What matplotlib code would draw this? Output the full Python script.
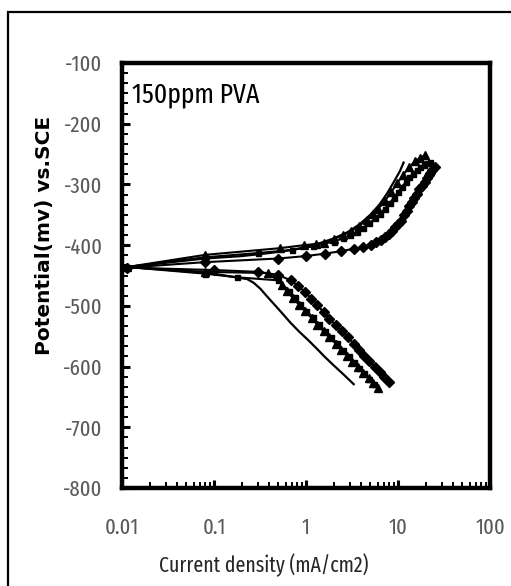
import numpy as np
import matplotlib
matplotlib.use("Agg")
import matplotlib.pyplot as plt
from matplotlib.ticker import FixedLocator, AutoMinorLocator, LogLocator, NullFormatter
from matplotlib.patches import Rectangle

plt.rcParams['axes.unicode_minus'] = False
narrow = ['Fira Sans Extra Condensed', 'Carlito', 'DejaVu Sans']

# ---- data: current density (mA/cm2) and potential (mV vs SCE)
# each series runs cathodic end -> Ecorr -> anodic end
i_line = [3.3, 2.6, 2.0, 1.6, 1.3, 1.05, 0.85, 0.68, 0.58, 0.5, 0.43, 0.37, 0.32, 0.27, 0.23, 0.09,
          0.0114,
          0.08, 0.2, 0.4, 0.7, 1.0, 1.4, 2.0, 2.8, 3.8, 5.0, 6.3, 7.6, 9.0, 10.5, 11.5]
e_line = [-629, -614, -598, -584, -570, -556, -543, -528, -516, -505, -494, -483, -472, -462, -456, -446,
          -436,
          -422, -418, -413, -408, -403, -397, -389, -379, -366, -350, -333, -315, -296, -278, -264]

i_tri = [6.1, 5.4, 4.8, 4.2, 3.7, 3.2, 2.8, 2.4, 2.1, 1.8, 1.55, 1.33, 1.15, 0.98, 0.84, 0.72, 0.62, 0.55, 0.39, 0.08,
         0.0114,
         0.08, 0.52, 0.95, 1.3, 1.57, 2.0, 2.5, 3.1, 3.8, 4.6, 5.4, 6.1, 7.2, 8.4, 9.8, 11.4, 13.2, 15.3, 17.5, 19.5]
e_tri = [-635, -627, -619, -610, -601, -592, -582, -572, -562, -552, -542, -531, -520, -509, -498, -487, -476, -465, -446, -444,
         -436,
         -416, -405, -400, -398, -396, -390, -384, -377, -368, -358, -348, -340, -327, -313, -298, -284, -272, -262, -256, -252]

i_sq = [5.5, 4.9, 4.3, 3.8, 3.3, 2.9, 2.5, 2.15, 1.85, 1.6, 1.38, 1.18, 1.01, 0.87, 0.75, 0.65, 0.5, 0.18, 0.08,
        0.0114,
        0.08, 0.3, 0.7, 1.2, 2.0, 2.5, 3.0, 3.6, 4.2, 4.9, 5.6, 6.4, 7.2, 8.1, 9.0, 10.0, 11.0, 12.2, 13.3, 14.6, 16.0, 17.5, 19.0, 20.5, 22.0]
e_sq = [-628, -620, -611, -602, -592, -582, -572, -561, -551, -541, -530, -519, -508, -497, -486, -475, -458, -453, -447,
        -436,
        -420, -413, -408, -402, -394, -389, -384, -378, -371, -364, -356, -348, -340, -331, -322, -313, -304, -296, -288, -282, -276, -272, -268, -265, -263]

i_dia = [7.9, 7.1, 6.3, 5.6, 4.9, 4.3, 3.8, 3.3, 2.85, 2.45, 2.1, 1.8, 1.55, 1.33, 1.14, 0.97, 0.82, 0.68, 0.5, 0.3, 0.1,
         0.0114,
         0.08, 0.5, 1.0, 1.6, 2.4, 3.3, 4.2, 5.1, 5.8, 6.5, 7.2, 7.9, 8.6, 9.3, 10.0, 10.8, 11.7, 12.5, 13.3, 14.1, 15.0,
         16.0, 17.0, 18.2, 19.5, 20.5, 21.5, 22.5, 23.5, 25.0]
e_dia = [-625, -617, -609, -600, -591, -582, -572, -562, -552, -542, -532, -521, -510, -499, -488, -477, -467, -458, -449, -444, -441,
         -437,
         -428, -422, -418, -414, -410, -406, -403, -400, -395, -391, -386, -381, -376, -370, -365, -360, -351, -343, -336, -329, -322,
         -315, -308, -302, -296, -290, -285, -281, -277, -271]

x_ticks = [0.01, 0.1, 1, 10, 100]
x_labels = ['0.01', '0.1', '1', '10', '100']
y_ticks = [-800, -700, -600, -500, -400, -300, -200, -100]
annotation = '150ppm PVA'

fig = plt.figure(figsize=(5.11, 5.86), dpi=100)
fig.patches.append(Rectangle((8/511, -0.02), 1.1, 1 - 12/586 + 0.02, transform=fig.transFigure,
                             fill=False, lw=1.6, edgecolor='black'))
ax = fig.add_axes([122/511, 1 - 488/586, (490 - 122)/511, (488 - 63)/586])

ax.plot(i_line, e_line, color='black', lw=1.6)
ax.plot(i_sq, e_sq, color='black', lw=1.5, marker='s', ms=3.6)
ax.plot(i_tri, e_tri, color='black', lw=1.5, marker='^', ms=6)
ax.plot(i_dia, e_dia, color='black', lw=1.5, marker='D', ms=4.6)

ax.set_xscale('log')
ax.set_xlim(0.01, 100)
ax.set_ylim(-800, -100)
ax.xaxis.set_major_locator(FixedLocator(x_ticks))
ax.set_xticklabels(x_labels)
ax.xaxis.set_minor_locator(LogLocator(base=10, subs=np.arange(2, 10)))
ax.xaxis.set_minor_formatter(NullFormatter())
ax.yaxis.set_major_locator(FixedLocator(y_ticks))
ax.set_yticklabels([str(v) for v in y_ticks])
ax.yaxis.set_minor_locator(AutoMinorLocator(6))

for s in ax.spines.values():
    s.set_linewidth(3.2)
ax.tick_params(which='major', direction='in', length=6, width=2.2, color='black',
               labelsize=16, labelcolor='#595959')
ax.tick_params(which='minor', direction='in', length=4, width=1.4, color='black')
ax.tick_params(axis='x', which='major', pad=21)
ax.tick_params(axis='y', which='major', pad=14)
for lab in ax.get_xticklabels() + ax.get_yticklabels():
    lab.set_family(narrow)

ax.text(0.028, 0.925, annotation, transform=ax.transAxes, fontsize=20, family=narrow,
        color='black', va='center', ha='left')

fig.text(264/511, 1 - 565/586, 'Current density (mA/cm2)', fontsize=15.5, family=narrow,
         color='#262626', ha='center', va='center')
fig.text(45/511, 1 - 235/586, 'Potential(mv) vs.SCE', fontsize=14.5, fontweight='bold',
         rotation=90, ha='center', va='center', color='black')

fig.savefig('out.png', dpi=100)
